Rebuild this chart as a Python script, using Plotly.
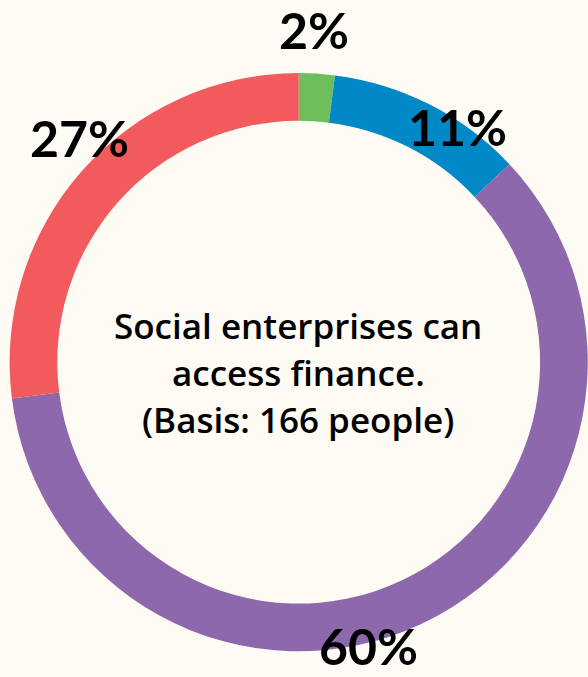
import plotly.graph_objects as go

# Survey shares, clockwise from 12 o'clock
categories = ["Green", "Blue", "Purple", "Red"]
shares = [2, 11, 60, 27]
colors = ["#6EBF5C", "#0089C6", "#8E68AD", "#F25A5D"]
center_lines = ["Social enterprises can", "access finance.", "(Basis: 166 people)"]

BG = "#FDFBF3"
W, H = 588, 677

fig = go.Figure(
    go.Pie(
        labels=categories,
        values=shares,
        hole=0.835,
        sort=False,
        direction="clockwise",
        rotation=0,
        marker=dict(colors=colors, line=dict(width=0)),
        textinfo="none",
        hoverinfo="label+percent",
        showlegend=False,
        domain=dict(x=[0.016, 1.0], y=[0.038, 0.892]),
    )
)

# Percentage labels placed around the ring (pixel positions from top-left),
# in the same order as the shares
label_pos = [(314, 30), (457, 127), (368, 646), (79, 138)]
for val, (px, py) in zip(shares, label_pos):
    fig.add_annotation(
        x=px / W, y=1 - py / H, xref="paper", yref="paper",
        text=f"<b>{val}%</b>", showarrow=False,
        font=dict(family="Lato", size=50, color="#000000"),
        xanchor="center", yanchor="middle",
    )

# Centre caption
for i, line in enumerate(center_lines):
    fig.add_annotation(
        x=298 / W, y=1 - (325 + 47 * i) / H, xref="paper", yref="paper",
        text=line, showarrow=False,
        font=dict(family="Open Sans", size=35, color="#000000", weight=600),
        xanchor="center", yanchor="middle",
    )

fig.update_layout(
    width=W, height=H,
    margin=dict(l=0, r=0, t=0, b=0),
    paper_bgcolor=BG, plot_bgcolor=BG,
)

fig.write_html("out.html")
